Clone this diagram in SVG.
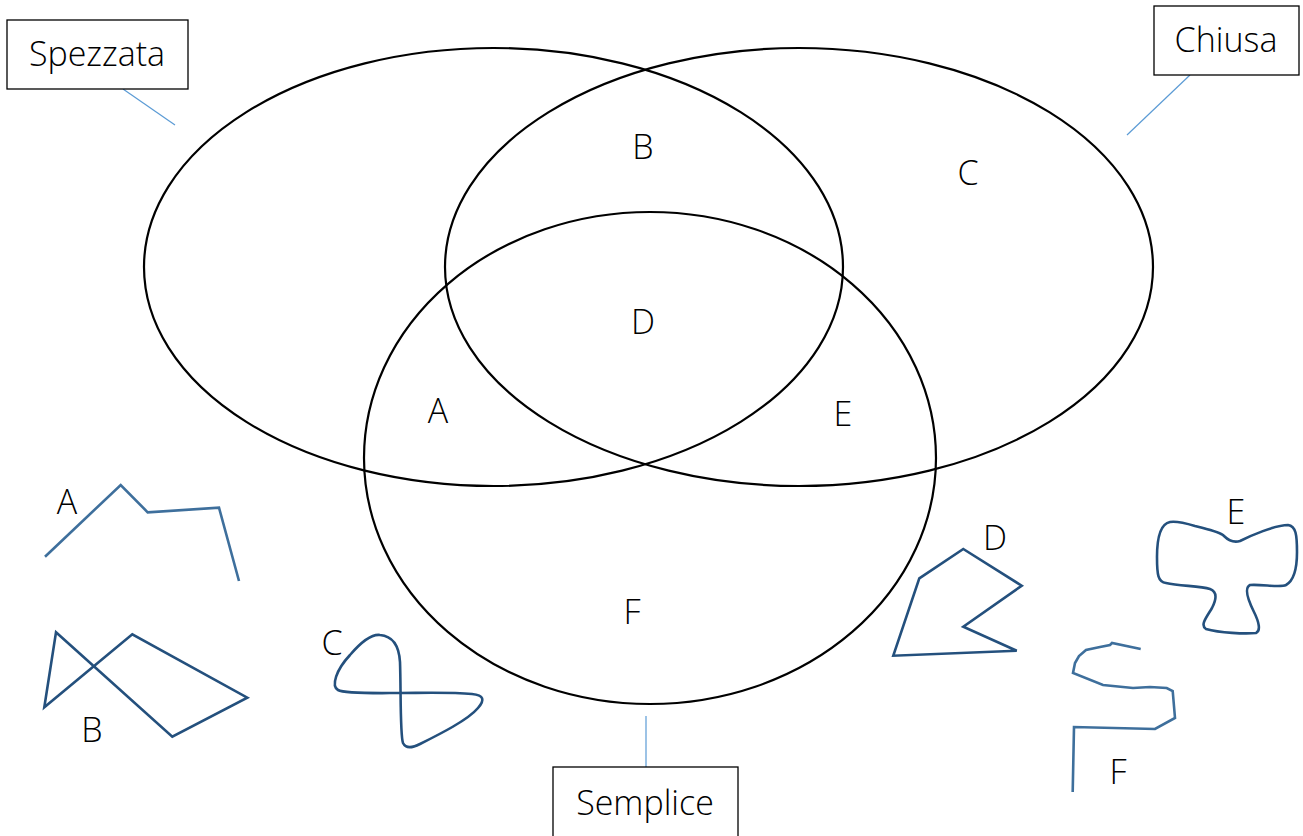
<svg xmlns="http://www.w3.org/2000/svg" width="1303" height="836" viewBox="0 0 1303 836">
<style>
.set{fill:none;stroke:#000;stroke-width:2.2}
.box{fill:#fff;stroke:#000;stroke-width:1.3}
.t{font-family:"Open Sans","Liberation Sans",sans-serif;font-weight:300;font-size:34px;fill:#000;text-anchor:middle;dominant-baseline:central}
.lead{stroke:#5B9BD5;stroke-width:1.2;fill:none}
.s1{fill:none;stroke:#3E6F9C;stroke-width:2.6;stroke-linejoin:miter}
.s2{fill:none;stroke:#24507D;stroke-width:2.6;stroke-linejoin:miter}
</style>
<rect width="1303" height="836" fill="#fff"/>
<g id="venn">
<ellipse class="set" cx="493.5" cy="267" rx="349.5" ry="219"/>
<ellipse class="set" cx="799" cy="267" rx="354" ry="219"/>
<ellipse class="set" cx="650" cy="458" rx="286" ry="246"/>
<text class="t" x="643" y="146">B</text>
<text class="t" x="968" y="172">C</text>
<text class="t" x="643" y="321">D</text>
<text class="t" x="438" y="410">A</text>
<text class="t" x="843" y="413">E</text>
<text class="t" x="632" y="611">F</text>
</g>
<g id="connectors">
<line class="lead" x1="123" y1="89" x2="175" y2="125"/>
<line class="lead" x1="1190" y1="75" x2="1127" y2="135"/>
<line class="lead" x1="646" y1="716" x2="646" y2="767"/>
</g>
<g id="label-spezzata">
<rect class="box" x="7" y="20" width="181" height="69"/>
<text class="t" x="97" y="53">Spezzata</text>
</g>
<g id="label-chiusa">
<rect class="box" x="1154" y="6" width="145" height="69"/>
<text class="t" x="1226" y="39">Chiusa</text>
</g>
<g id="label-semplice">
<rect class="box" x="553" y="767" width="185" height="80"/>
<text class="t" x="645" y="802">Semplice</text>
</g>
<g id="shape-A">
<polyline class="s1" points="45,556.7 120.7,485 147.7,512.3 219,507.7 239,581"/>
<text class="t" x="67" y="501">A</text>
</g>
<g id="shape-B">
<polygon class="s2" points="56,632.3 172.3,736.7 247.3,697.7 132.3,634.3 44.3,707.3"/>
<text class="t" x="92" y="729">B</text>
</g>
<g id="shape-C">
<path class="s2" d="M400,693 C380,693 345,694 338,690 C331,686 336,670 350,655 C362,641 372,634 380,635 C392,636 399,645 400,662 C401,690 400,735 403,743 C406,749 412,748 420,744 C440,734 468,720 478,708 C485,700 484,695 472,694 C450,692 420,693 400,693 Z"/>
<text class="t" x="332" y="642">C</text>
</g>
<g id="shape-D">
<polygon class="s2" points="963.3,549 1021.7,585.7 963.3,626.7 1016.7,650.7 893.3,655.7 919.3,578.3"/>
<text class="t" x="995" y="537">D</text>
</g>
<g id="shape-E">
<path class="s2" d="M1170,522 C1160,524 1157,540 1157,557 C1157,575 1158,582 1166,583 C1180,586 1200,586 1210,589 C1218,592 1216,600 1212,608 C1206,618 1200,625 1206,629 C1220,633 1245,634 1256,633 C1261,631 1259,622 1254,612 C1248,600 1244,588 1250,585 C1262,584 1280,588 1286,585 C1295,580 1297,565 1297,552 C1297,535 1296,526 1288,525 C1275,525 1250,536 1240,541 C1233,543 1228,540 1224,536 C1220,532 1210,530 1195,526 C1185,523 1176,521 1170,522 Z"/>
<text class="t" x="1236" y="511">E</text>
</g>
<g id="shape-F">
<polyline class="s1" points="1072.7,792 1074,727 1155,729 1175,718 1172.7,691 1166.7,688 1150,687 1133,688 1103,685 1073,673 1075,663 1079,656 1086,650 1100,647 1110,645 1112,643 1140.7,649"/>
<text class="t" x="1118" y="771">F</text>
</g>
</svg>
